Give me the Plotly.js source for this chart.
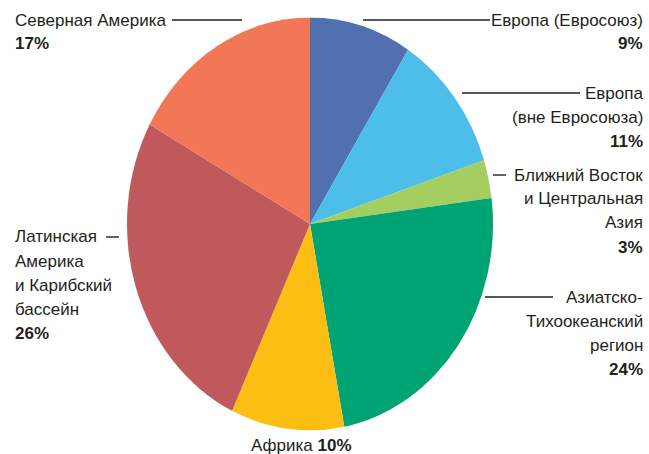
<!DOCTYPE html>
<html>
<head>
<meta charset="utf-8">
<script src="https://cdn.plot.ly/plotly-3.0.1.min.js"></script>
<style>
  html, body { margin: 0; padding: 0; background: #ffffff; }
  #wrap { position: relative; width: 649px; height: 454px; overflow: hidden; }
  #pie { position: absolute; left: 127px; top: 41px; width: 366px; height: 366px;
         transform: scaleY(1.1284); transform-origin: 50% 50%; }
  #labels { position: absolute; left: 0; top: 0; width: 649px; height: 454px; }
</style>
</head>
<body>
<div id="wrap">
  <div id="pie"></div>
  <div id="labels"></div>
</div>
<script>
// ---- data ----
const categories = [
  "Европа (Евросоюз)",
  "Европа (вне Евросоюза)",
  "Ближний Восток и Центральная Азия",
  "Азиатско-Тихоокеанский регион",
  "Африка",
  "Латинская Америка и Карибский бассейн",
  "Северная Америка"
];
const values = [9, 11, 3, 24, 10, 26, 17];
const labelLines = [
  ["Европа (Евросоюз)"],
  ["Европа", "(вне Евросоюза)"],
  ["Ближний Восток", "и Центральная", "Азия"],
  ["Азиатско-", "Тихоокеанский", "регион"],
  ["Африка"],
  ["Латинская", "Америка", "и Карибский", "бассейн"],
  ["Северная Америка"]
];
const colors = ["#5070B0", "#4DBDEA", "#A5CE60", "#00A474", "#FDBE14", "#C0595B", "#F17757"];

// ---- pie ----
Plotly.newPlot("pie", [{
  type: "pie",
  labels: categories,
  values: values,
  sort: false,
  direction: "clockwise",
  rotation: 0,
  textinfo: "none",
  hoverinfo: "none",
  marker: { colors: colors, line: { width: 0 } }
}], {
  width: 366, height: 366,
  margin: { l: 0, r: 0, t: 0, b: 0 },
  showlegend: false,
  paper_bgcolor: "rgba(0,0,0,0)"
}, { staticPlot: true });

// ---- labels ----
const W = 649, H = 454;
const place = [
  { x: 645, xa: "right",  y0: 20,  line: [363, 490, 20] },
  { x: 645, xa: "right",  y0: 93,  line: [462, 580, 93] },
  { x: 645, xa: "right",  y0: 175, line: [493, 506, 175] },
  { x: 645, xa: "right",  y0: 297, line: [485, 553, 297] },
  { x: 301, xa: "center", y0: 445, inline: true },
  { x: 13,  xa: "left",   y0: 237, line: [106, 119, 237] },
  { x: 13,  xa: "left",   y0: 20,  line: [172, 242, 20] }
];
const step = 24;
const font = { family: "Liberation Sans, Arial, sans-serif", size: 17, color: "#231F20" };
const annotations = [];
const shapes = [];
categories.forEach((c, i) => {
  const p = place[i];
  const lines = labelLines[i].slice();
  const pct = "<b>" + values[i] + "%</b>";
  if (p.inline) {
    lines[lines.length - 1] += " " + pct;
  } else {
    lines.push(pct);
  }
  lines.forEach((t, k) => {
    annotations.push({
      xref: "paper", yref: "paper",
      x: p.x / W, y: 1 - (p.y0 + k * step) / H,
      xanchor: p.xa, yanchor: "middle",
      text: t, showarrow: false, font: font
    });
  });
  if (p.line) {
    shapes.push({
      type: "line", xref: "paper", yref: "paper",
      x0: p.line[0] / W, x1: p.line[1] / W,
      y0: 1 - p.line[2] / H, y1: 1 - p.line[2] / H,
      line: { color: "#231F20", width: 1.4 }
    });
  }
});

Plotly.newPlot("labels", [], {
  width: W, height: H,
  margin: { l: 0, r: 0, t: 0, b: 0 },
  paper_bgcolor: "rgba(0,0,0,0)",
  plot_bgcolor: "rgba(0,0,0,0)",
  xaxis: { visible: false }, yaxis: { visible: false },
  showlegend: false,
  annotations: annotations,
  shapes: shapes
}, { staticPlot: true });
</script>
</body>
</html>
